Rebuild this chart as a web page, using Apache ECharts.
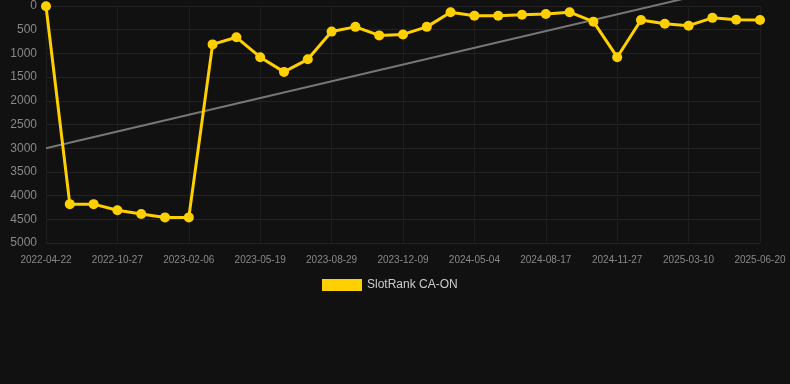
<!DOCTYPE html>
<html>
<head>
<meta charset="utf-8">
<script src="https://cdn.jsdelivr.net/npm/echarts@6/dist/echarts.min.js"></script>
<style>
    html, body { margin: 0; padding: 0; background: #111111; }
    #chartBox { width: 790px; height: 384px; }
</style>
</head>
<body>
<div id="chartBox"></div>
<script>
var dates = ['2022-04-22', '2022-06-24', '2022-08-26', '2022-10-27', '2022-11-30', '2023-01-03',
    '2023-02-06', '2023-03-12', '2023-04-15', '2023-05-19', '2023-06-22', '2023-07-26',
    '2023-08-29', '2023-10-02', '2023-11-05', '2023-12-09', '2024-01-31', '2024-03-14',
    '2024-05-04', '2024-06-08', '2024-07-13', '2024-08-17', '2024-09-20', '2024-10-24',
    '2024-11-27', '2024-12-31', '2025-02-04', '2025-03-10', '2025-04-13', '2025-05-17',
    '2025-06-20'];
var ranks = [5, 4180, 4180, 4310, 4390, 4460, 4460, 810, 660, 1080, 1390, 1125,
    540, 440, 620, 600, 440, 130, 205, 205, 185, 170, 130, 330, 1080, 295, 375, 415,
    250, 290, 295];
// trend line end points (first and last category)
var trendStart = 3000;
var trendEnd = -530;
var yTicks = [0, 5000, 500];

rankChart();

/**
 * rank chart
 */
function rankChart() {
    var myChart = echarts.init(document.getElementById('chartBox'));
    var option = {
        backgroundColor: '#111111',
        animation: false,
        grid: {
            left: 46,
            right: 30,
            top: 6,
            bottom: 141
        },
        legend: {
            data: ['SlotRank CA-ON'],
            top: 274,
            left: 317,
            icon: 'rect',
            itemWidth: 40,
            itemHeight: 12,
            textStyle: {color: '#cccccc', fontSize: 12, fontFamily: 'Liberation Sans, Arial'}
        },
        xAxis: [
            {
                type: 'category',
                boundaryGap: false,
                data: dates,
                axisLine: {show: false},
                axisTick: {
                    show: true,
                    interval: 2,
                    length: 9,
                    lineStyle: {color: '#1e1e1e'}
                },
                axisLabel: {
                    interval: 2,
                    color: '#888888',
                    fontSize: 10,
                    margin: 12,
                    fontFamily: 'Liberation Sans, Arial'
                },
                splitLine: {
                    show: true,
                    interval: 2,
                    lineStyle: {color: '#1e1e1e'}
                }
            }
        ],
        yAxis: [
            {
                type: 'value',
                inverse: true,
                min: yTicks[0],
                max: yTicks[1],
                interval: yTicks[2],
                axisLine: {show: false},
                axisTick: {show: false},
                axisLabel: {
                    color: '#888888',
                    fontSize: 12,
                    margin: 9,
                    fontFamily: 'Liberation Sans, Arial',
                    formatter: function (v) { return String(v); }
                },
                splitLine: {lineStyle: {color: '#222222'}}
            }
        ],
        series: [
            {
                name: 'trend',
                type: 'line',
                data: [[0, trendStart], [dates.length - 1, trendEnd]],
                symbol: 'none',
                clip: false,
                lineStyle: {color: '#777777', width: 2},
                silent: true,
                z: 1
            },
            {
                name: 'SlotRank CA-ON',
                type: 'line',
                data: ranks,
                symbol: 'circle',
                symbolSize: 10,
                clip: false,
                itemStyle: {color: '#ffd000'},
                lineStyle: {color: '#ffd000', width: 3},
                z: 2
            }
        ]
    };
    myChart.setOption(option);
}
</script>
</body>
</html>
